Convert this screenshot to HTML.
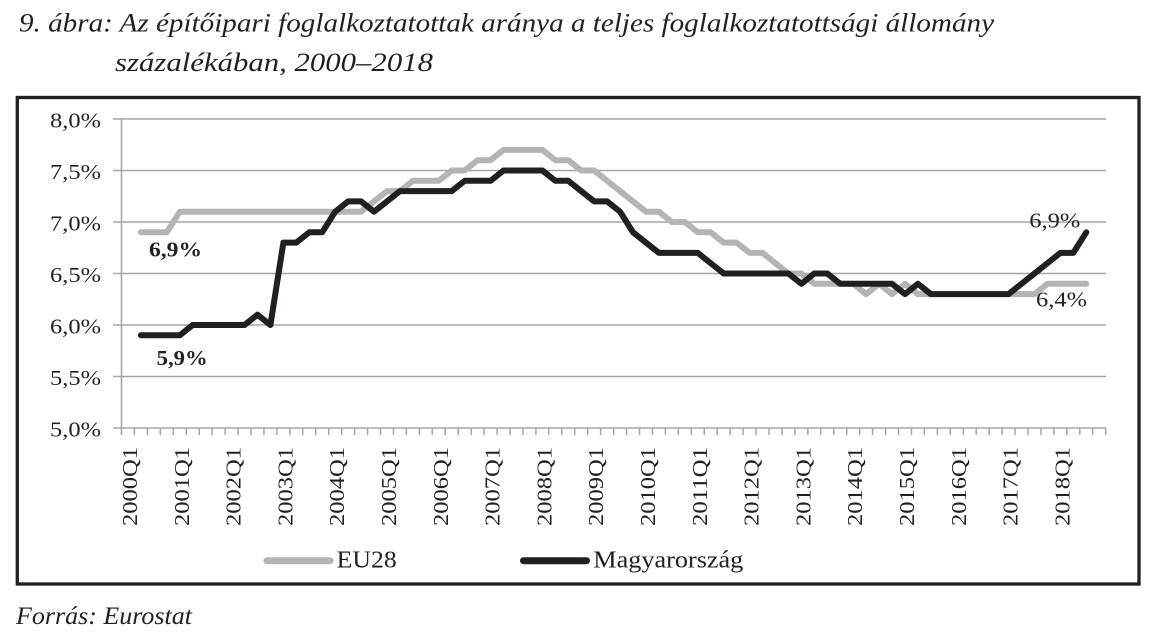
<!DOCTYPE html>
<html>
<head>
<meta charset="utf-8">
<style>
html,body{margin:0;padding:0;background:#fff;}
svg{display:block;}
text{font-family:"Liberation Serif","DejaVu Serif",serif;fill:#231f20;}
</style>
</head>
<body>
<svg width="1153" height="642" viewBox="0 0 1153 642" xmlns="http://www.w3.org/2000/svg">
<rect x="0" y="0" width="1153" height="642" fill="#fff"/>
<!-- Title -->
<text x="19" y="31.5" font-size="26" font-style="italic" textLength="975" lengthAdjust="spacingAndGlyphs">9. ábra: Az építőipari foglalkoztatottak aránya a teljes foglalkoztatottsági állomány</text>
<text x="115" y="71" font-size="26" font-style="italic" textLength="318" lengthAdjust="spacingAndGlyphs">százalékában, 2000–2018</text>

<!-- Frame -->
<rect x="17.3" y="97.5" width="1121.7" height="486.5" fill="none" stroke="#231f20" stroke-width="3.3"/>

<!-- Gridlines -->
<g stroke="#a6a6a6" stroke-width="1.6">
<line x1="113" y1="119" x2="1106" y2="119"/>
<line x1="113" y1="170.5" x2="1106" y2="170.5"/>
<line x1="113" y1="222" x2="1106" y2="222"/>
<line x1="113" y1="273.5" x2="1106" y2="273.5"/>
<line x1="113" y1="325" x2="1106" y2="325"/>
<line x1="113" y1="376.5" x2="1106" y2="376.5"/>
<line x1="113" y1="428" x2="1106" y2="428"/>
<line x1="121.5" y1="119" x2="121.5" y2="435"/>
</g>
<!-- x ticks -->
<path stroke="#a6a6a6" stroke-width="1.5" fill="none" d="M134.45 428v7M147.4 428v7M160.35 428v7M173.3 428v7M186.25 428v7M199.2 428v7M212.15 428v7M225.1 428v7M238.05 428v7M251 428v7M263.95 428v7M276.9 428v7M289.85 428v7M302.8 428v7M315.75 428v7M328.7 428v7M341.65 428v7M354.6 428v7M367.55 428v7M380.5 428v7M393.45 428v7M406.4 428v7M419.35 428v7M432.3 428v7M445.25 428v7M458.2 428v7M471.15 428v7M484.1 428v7M497.05 428v7M510 428v7M522.95 428v7M535.9 428v7M548.85 428v7M561.8 428v7M574.75 428v7M587.7 428v7M600.65 428v7M613.6 428v7M626.55 428v7M639.5 428v7M652.45 428v7M665.4 428v7M678.35 428v7M691.3 428v7M704.25 428v7M717.2 428v7M730.15 428v7M743.1 428v7M756.05 428v7M769 428v7M781.95 428v7M794.9 428v7M807.85 428v7M820.8 428v7M833.75 428v7M846.7 428v7M859.65 428v7M872.6 428v7M885.55 428v7M898.5 428v7M911.45 428v7M924.4 428v7M937.35 428v7M950.3 428v7M963.25 428v7M976.2 428v7M989.15 428v7M1002.1 428v7M1015.05 428v7M1028 428v7M1040.95 428v7M1053.9 428v7M1066.85 428v7M1079.8 428v7M1092.75 428v7M1105.7 428v7"/>

<!-- Y labels -->
<g font-size="21" text-anchor="end">
<text x="101" y="127.3" textLength="51" lengthAdjust="spacingAndGlyphs">8,0%</text>
<text x="101" y="178.8" textLength="51" lengthAdjust="spacingAndGlyphs">7,5%</text>
<text x="101" y="230.3" textLength="51" lengthAdjust="spacingAndGlyphs">7,0%</text>
<text x="101" y="281.8" textLength="51" lengthAdjust="spacingAndGlyphs">6,5%</text>
<text x="101" y="333.3" textLength="51" lengthAdjust="spacingAndGlyphs">6,0%</text>
<text x="101" y="384.8" textLength="51" lengthAdjust="spacingAndGlyphs">5,5%</text>
<text x="101" y="436.3" textLength="51" lengthAdjust="spacingAndGlyphs">5,0%</text>
</g>

<!-- X labels -->
<g font-size="21" text-anchor="end">
<text transform="translate(137,447) rotate(-90)" textLength="79" lengthAdjust="spacingAndGlyphs">2000Q1</text>
<text transform="translate(188.8,447) rotate(-90)" textLength="79" lengthAdjust="spacingAndGlyphs">2001Q1</text>
<text transform="translate(240.6,447) rotate(-90)" textLength="79" lengthAdjust="spacingAndGlyphs">2002Q1</text>
<text transform="translate(292.4,447) rotate(-90)" textLength="79" lengthAdjust="spacingAndGlyphs">2003Q1</text>
<text transform="translate(344.2,447) rotate(-90)" textLength="79" lengthAdjust="spacingAndGlyphs">2004Q1</text>
<text transform="translate(396,447) rotate(-90)" textLength="79" lengthAdjust="spacingAndGlyphs">2005Q1</text>
<text transform="translate(447.8,447) rotate(-90)" textLength="79" lengthAdjust="spacingAndGlyphs">2006Q1</text>
<text transform="translate(499.6,447) rotate(-90)" textLength="79" lengthAdjust="spacingAndGlyphs">2007Q1</text>
<text transform="translate(551.4,447) rotate(-90)" textLength="79" lengthAdjust="spacingAndGlyphs">2008Q1</text>
<text transform="translate(603.2,447) rotate(-90)" textLength="79" lengthAdjust="spacingAndGlyphs">2009Q1</text>
<text transform="translate(655,447) rotate(-90)" textLength="79" lengthAdjust="spacingAndGlyphs">2010Q1</text>
<text transform="translate(706.8,447) rotate(-90)" textLength="79" lengthAdjust="spacingAndGlyphs">2011Q1</text>
<text transform="translate(758.6,447) rotate(-90)" textLength="79" lengthAdjust="spacingAndGlyphs">2012Q1</text>
<text transform="translate(810.4,447) rotate(-90)" textLength="79" lengthAdjust="spacingAndGlyphs">2013Q1</text>
<text transform="translate(862.2,447) rotate(-90)" textLength="79" lengthAdjust="spacingAndGlyphs">2014Q1</text>
<text transform="translate(914,447) rotate(-90)" textLength="79" lengthAdjust="spacingAndGlyphs">2015Q1</text>
<text transform="translate(965.8,447) rotate(-90)" textLength="79" lengthAdjust="spacingAndGlyphs">2016Q1</text>
<text transform="translate(1017.6,447) rotate(-90)" textLength="79" lengthAdjust="spacingAndGlyphs">2017Q1</text>
<text transform="translate(1069.4,447) rotate(-90)" textLength="79" lengthAdjust="spacingAndGlyphs">2018Q1</text>
</g>

<!-- EU28 series -->
<polyline fill="none" stroke="#b4b4b4" stroke-width="6" stroke-linejoin="round" stroke-linecap="round"
points="140.9,232.3 166.8,232.3 179.8,211.7 361.1,211.7 374.0,201.4 387.0,191.1 399.9,191.1 412.9,180.8 438.8,180.8 451.7,170.5 464.7,170.5 477.6,160.2 490.6,160.2 503.5,149.9 542.4,149.9 555.3,160.2 568.3,160.2 581.2,170.5 594.2,170.5 607.1,180.8 620.1,191.1 633.0,201.4 646.0,211.7 658.9,211.7 671.9,222 684.8,222 697.8,232.3 710.7,232.3 723.7,242.6 736.6,242.6 749.6,252.9 762.5,252.9 775.5,263.2 788.4,273.5 801.4,273.5 814.3,283.8 853.2,283.8 866.1,294.1 879.1,283.8 892.0,294.1 905.0,283.8 917.9,294.1 1034.5,294.1 1047.4,283.8 1086.3,283.8"/>

<!-- Magyarország series -->
<polyline fill="none" stroke="#231f20" stroke-width="6" stroke-linejoin="round" stroke-linecap="round"
points="140.9,335.3 179.8,335.3 192.7,325 244.5,325 257.5,314.7 270.4,325 283.4,242.6 296.3,242.6 309.3,232.3 322.2,232.3 335.2,211.7 348.1,201.4 361.1,201.4 374.0,211.7 387.0,201.4 399.9,191.1 451.7,191.1 464.7,180.8 490.6,180.8 503.5,170.5 542.4,170.5 555.3,180.8 568.3,180.8 581.2,191.1 594.2,201.4 607.1,201.4 620.1,211.7 633.0,232.3 646.0,242.6 658.9,252.9 697.8,252.9 710.7,263.2 723.7,273.5 788.4,273.5 801.4,283.8 814.3,273.5 827.3,273.5 840.2,283.8 892.0,283.8 905.0,294.1 917.9,283.8 930.9,294.1 1008.6,294.1 1021.5,283.8 1034.5,273.5 1047.4,263.2 1060.4,252.9 1073.3,252.9 1086.3,232.3"/>

<!-- Data labels -->
<text x="149" y="256.7" font-size="21" font-weight="bold" textLength="53" lengthAdjust="spacingAndGlyphs">6,9%</text>
<text x="156.7" y="365" font-size="21" font-weight="bold" textLength="51" lengthAdjust="spacingAndGlyphs">5,9%</text>
<text x="1029.3" y="227.3" font-size="21" textLength="51" lengthAdjust="spacingAndGlyphs">6,9%</text>
<text x="1036" y="306.7" font-size="21" textLength="51" lengthAdjust="spacingAndGlyphs">6,4%</text>

<!-- Legend -->
<line x1="267" y1="560.7" x2="330" y2="560.7" stroke="#b4b4b4" stroke-width="7" stroke-linecap="round"/>
<text x="336.7" y="567.3" font-size="24" textLength="60" lengthAdjust="spacingAndGlyphs">EU28</text>
<line x1="523.5" y1="560.7" x2="586.5" y2="560.7" stroke="#231f20" stroke-width="7" stroke-linecap="round"/>
<text x="593.3" y="567.3" font-size="24" textLength="150" lengthAdjust="spacingAndGlyphs">Magyarország</text>

<!-- Source -->
<text x="16" y="624" font-size="25" font-style="italic" textLength="176" lengthAdjust="spacingAndGlyphs">Forrás: Eurostat</text>
</svg>
</body>
</html>
